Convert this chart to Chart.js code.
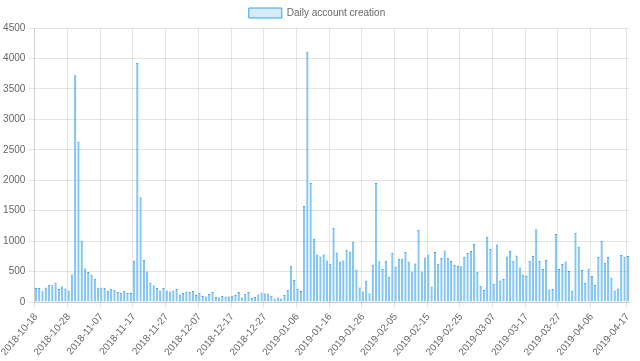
<!DOCTYPE html>
<html>
<head>
<meta charset="utf-8">
<script src="https://cdn.jsdelivr.net/npm/chart.js@4"></script>
<style>
  body { margin: 0; background: #fff; }
  #wrap { width: 640px; height: 361px; position: relative; }
</style>
</head>
<body>
<div id="wrap"><canvas id="myChart"></canvas></div>
<script>
const startDate = "2018-10-18";
const dayCount = 182;

// one per day
const accounts = [
    230, 230, 180, 240, 285, 275, 323, 214, 257, 225,
    192, 455, 3724, 2634, 1008, 553, 493, 449, 383, 235,
    241, 235, 186, 219, 203, 164, 153, 186, 148, 148,
    679, 3925, 1720, 690, 504, 318, 274, 230, 192, 230,
    192, 175, 192, 214, 126, 148, 175, 164, 181, 115,
    153, 99, 93, 131, 164, 82, 77, 99, 93, 93,
    104, 115, 164, 77, 137, 164, 71, 82, 126, 159,
    142, 142, 104, 60, 77, 60, 115, 203, 597, 361,
    225, 181, 1577, 4110, 1955, 1040, 783, 750, 783, 684,
    630, 1216, 816, 663, 684, 860, 832, 991, 537, 241,
    175, 350, 142, 613, 1955, 670, 545, 677, 416, 810,
    586, 712, 712, 821, 668, 504, 635, 1183, 504, 734,
    783, 257, 821, 630, 723, 849, 728, 674, 608, 591,
    588, 745, 805, 838, 953, 498, 268, 197, 1073, 871,
    301, 947, 356, 378, 750, 838, 679, 767, 570, 454,
    427, 679, 756, 1194, 674, 545, 690, 208, 214, 1117,
    542, 624, 668, 509, 192, 1139, 909, 526, 312, 553,
    427, 279, 739, 1002, 646, 739, 400, 192, 225, 772,
    745, 756
];

const days = [];
const d0 = new Date(startDate + "T00:00:00Z");
for (let i = 0; i < dayCount; i++) {
    const d = new Date(d0.getTime() + i * 86400000);
    days.push(d.toISOString().slice(0, 10));
}

// a label every 10 days, plus the last day (the one before it is dropped)
const showTick = (i) => i === dayCount - 1 || (i % 10 === 0 && i !== 180);

Chart.defaults.font.family = "'Helvetica Neue', 'Helvetica', 'Arial', sans-serif";
Chart.defaults.font.size = 10;
Chart.defaults.color = '#666';

const ctx = document.getElementById('myChart').getContext('2d');

const data = {
    labels: days,
    datasets: [{
        label: 'Daily account creation',
        backgroundColor: 'rgba(54, 162, 235, 0.6)',
        borderColor: 'rgba(54, 162, 235, 1)',
        borderWidth: { top: 1, left: 0, right: 0, bottom: 0 },
        data: accounts,
    }]
};

// x grid lines drawn by hand at the labelled days only
const dayLines = {
    id: 'dayLines',
    beforeDatasetsDraw(chart) {
        const x = chart.scales.x;
        const area = chart.chartArea;
        const c = chart.ctx;
        const half = (x.getPixelForValue(1) - x.getPixelForValue(0)) / 2;
        c.save();
        c.strokeStyle = 'rgba(0,0,0,0.1)';
        c.lineWidth = 1;
        c.beginPath();
        days.forEach((d, i) => {
            if (!showTick(i)) return;
            const px = Math.round(x.getPixelForValue(i) - half) + 0.5;
            c.moveTo(px, area.top);
            c.lineTo(px, area.bottom + 6);
        });
        c.stroke();
        c.restore();
    }
};

const config = {
    type: 'bar',
    data: data,
    plugins: [dayLines],
    options: {
        responsive: true,
        maintainAspectRatio: false,
        animation: false,
        events: [],
        layout: { padding: { left: 0, right: 6, top: 0, bottom: 0 } },
        plugins: {
            legend: {
                labels: {
                    boxWidth: 33,
                    boxHeight: 10,
                    padding: 8,
                    generateLabels: () => [{
                        text: 'Daily account creation',
                        fillStyle: 'rgba(54, 162, 235, 0.2)',
                        strokeStyle: 'rgba(54, 162, 235, 1)',
                        lineWidth: 1,
                        fontColor: '#666',
                        datasetIndex: 0
                    }]
                }
            },
            tooltip: { enabled: false }
        },
        scales: {
            x: {
                grid: { display: false, drawTicks: true, tickLength: 6 },
                border: { display: true, color: 'rgba(0,0,0,0.1)' },
                ticks: {
                    autoSkip: false,
                    minRotation: 50,
                    maxRotation: 50,
                    callback: function (value, index) {
                        return showTick(index) ? this.getLabelForValue(value) : null;
                    }
                }
            },
            y: {
                min: 0,
                max: 4500,
                grid: { tickLength: 6 },
                ticks: { stepSize: 500, callback: (v) => String(v) }
            }
        }
    }
};

const myChart = new Chart(ctx, config);
</script>
</body>
</html>
